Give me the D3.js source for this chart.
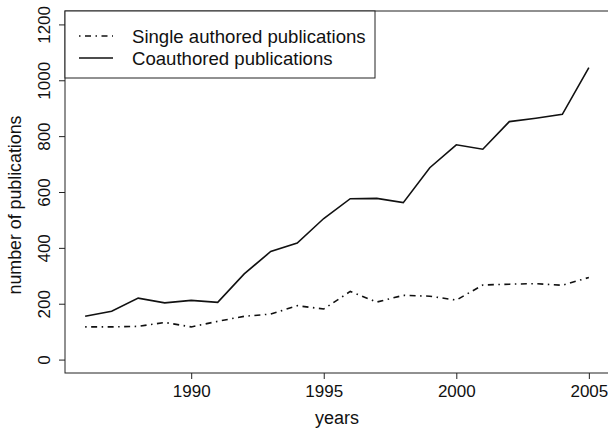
<!DOCTYPE html>
<html>
<head>
<meta charset="utf-8">
<script src="https://cdn.jsdelivr.net/npm/d3@7"></script>
<style>
  body { margin: 0; background: #fff; }
  svg { display: block; font-family: "Liberation Sans", Arial, Helvetica, sans-serif; }
</style>
</head>
<body>
<div id="chart"></div>
<script>
// data
const years = [1986, 1987, 1988, 1989, 1990, 1991, 1992, 1993, 1994, 1995,
               1996, 1997, 1998, 1999, 2000, 2001, 2002, 2003, 2004, 2005]
const single = [117, 117, 119, 133, 117, 137, 155, 163, 193, 181,
                244, 206, 230, 227, 213, 267, 270, 272, 266, 294]
const coauthored = [155, 173, 220, 203, 212, 205, 307, 387, 417, 505,
                    576, 577, 562, 687, 769, 753, 852, 864, 878, 1045]
const xTicks = [1990, 1995, 2000, 2005]
const yTicks = [0, 200, 400, 600, 800, 1000, 1200]
const legendLabels = ["Single authored publications", "Coauthored publications"]

const width = 608
const height = 431
const margin = {top: 11, right: -1, bottom: 58, left: 65}

const svg = d3.select("#chart").append("svg")
    .attr("width", width)
    .attr("height", height)

// R style: 4% padding round the data range
const x = d3.scaleLinear()
    .domain([1985.24, 2005.76])
    .range([margin.left, width - margin.right])
const y = d3.scaleLinear()
    .domain([-48, 1248])
    .range([height - margin.bottom, margin.top])

// plot box (right edge falls just outside the picture)
svg.append("rect")
    .attr("x", margin.left)
    .attr("y", margin.top)
    .attr("width", width - margin.right - margin.left)
    .attr("height", height - margin.bottom - margin.top)
    .attr("fill", "none")
    .attr("stroke", "#222")
    .attr("stroke-width", 1)

// axes
const xAxis = svg.append("g")
    .attr("transform", `translate(0,${height - margin.bottom})`)
    .call(d3.axisBottom(x).tickValues(xTicks).tickFormat(d3.format("d")).tickSize(6))
xAxis.select(".domain").remove()

const yAxis = svg.append("g")
    .attr("transform", `translate(${margin.left},0)`)
    .call(d3.axisLeft(y).tickValues(yTicks).tickFormat(d3.format("d")).tickSize(6))
yAxis.select(".domain").remove()

svg.selectAll(".tick line").attr("stroke", "#222")
svg.selectAll(".tick text")
    .attr("fill", "#111")
    .style("font-size", "17px")
    .style("font-family", "'Liberation Sans', Arial, sans-serif")

// y tick labels are vertical, as in R
yAxis.selectAll(".tick text")
    .attr("x", null).attr("dy", null)
    .attr("text-anchor", "middle")
    .attr("transform", "translate(-14,0) rotate(-90)")
    .attr("dy", "-0.05em")

xAxis.selectAll(".tick text").attr("dy", "0.71em").attr("y", 12)

// axis titles
svg.append("text")
    .attr("x", (margin.left + width - margin.right) / 2)
    .attr("y", 424)
    .attr("text-anchor", "middle")
    .attr("fill", "#111")
    .style("font-size", "18px")
    .text("years")

svg.append("text")
    .attr("transform", "translate(21,205) rotate(-90)")
    .attr("text-anchor", "middle")
    .attr("fill", "#111")
    .style("font-size", "17.8px")
    .text("number of publications")

// series
const line = d3.line()
    .x((d, i) => x(years[i]))
    .y(d => y(d))

svg.append("path")
    .datum(single)
    .attr("d", line)
    .attr("fill", "none")
    .attr("stroke", "#111")
    .attr("stroke-width", 1.6)
    .attr("stroke-dasharray", "1.5,4.5,6,4.5")

svg.append("path")
    .datum(coauthored)
    .attr("d", line)
    .attr("fill", "none")
    .attr("stroke", "#111")
    .attr("stroke-width", 1.6)

// legend
const legend = svg.append("g")
legend.append("rect")
    .attr("x", margin.left)
    .attr("y", margin.top)
    .attr("width", 310)
    .attr("height", 67)
    .attr("fill", "#fff")
    .attr("stroke", "#222")
    .attr("stroke-width", 1)

const dashes = ["1.5,4.5,6,4.5", null]
legendLabels.forEach((label, i) => {
    const cy = 36 + i * 22
    legend.append("line")
        .attr("x1", 79).attr("x2", 113)
        .attr("y1", cy).attr("y2", cy)
        .attr("stroke", "#111")
        .attr("stroke-width", 1.6)
        .attr("stroke-dasharray", dashes[i])
    legend.append("text")
        .attr("x", 132)
        .attr("y", cy)
        .attr("dy", "0.35em")
        .attr("fill", "#111")
        .style("font-size", "18.6px")
        .text(label)
})
</script>
</body>
</html>
